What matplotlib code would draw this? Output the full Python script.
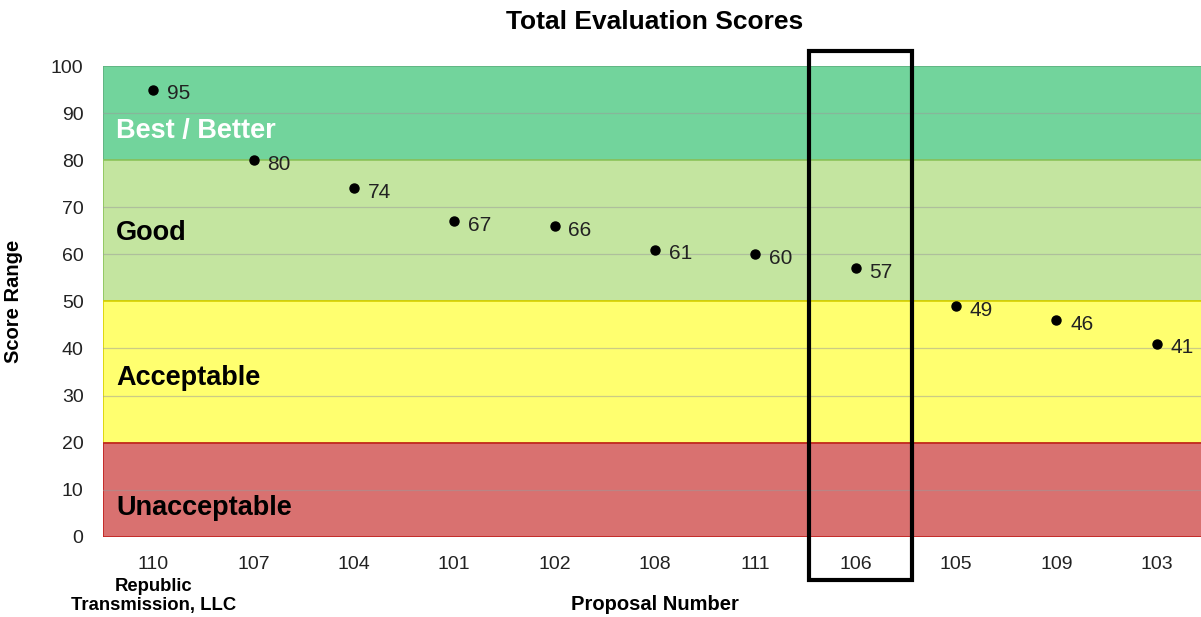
import matplotlib
matplotlib.use('Agg')
import matplotlib.pyplot as plt
from matplotlib.patches import Rectangle

plt.rcParams['font.family'] = ['Liberation Sans', 'DejaVu Sans']

# Data
proposals = ['110', '107', '104', '101', '102', '108', '111', '106', '105', '109', '103']
scores = [95, 80, 74, 67, 66, 61, 60, 57, 49, 46, 41]
highlight = '106'

# Score bands
band_low = [80, 50, 20, 0]
band_high = [100, 80, 50, 20]
band_names = ['Best / Better', 'Good', 'Acceptable', 'Unacceptable']

BAND_FACE = ['#72D49C', '#C4E5A0', '#FFFF6F', '#D97170']
BAND_EDGE = ['#5FB080', '#8CC45A', '#D8D000', '#C0201E']
BAND_TEXT = ['white', 'black', 'black', 'black']
BAND_TEXT_Y = [86.2, 64.5, 33.7, 6.2]

fig = plt.figure(figsize=(12.01, 6.17), dpi=100)
ax = fig.add_axes([0.0858, 0.130, 0.919, 0.763])

x = list(range(len(proposals)))

for lo, hi, face, edge in zip(band_low, band_high, BAND_FACE, BAND_EDGE):
    ax.add_patch(Rectangle((-0.5, lo), len(proposals), hi - lo, facecolor=face,
                           edgecolor=edge, lw=1.2, zorder=0))

for g in range(10, 100, 10):
    if g in (20, 50, 80):
        continue
    ax.axhline(g, color='#9A9A9A', lw=0.9, alpha=0.5, zorder=1)

for name, tc, ty in zip(band_names, BAND_TEXT, BAND_TEXT_Y):
    ax.text(-0.37, ty, name, color=tc, fontsize=19.5, weight='bold',
            ha='left', va='center', zorder=3)

ax.plot(x, scores, 'o', color='black', markersize=6.5, zorder=4)
for xi, s in zip(x, scores):
    ax.annotate(str(s), (xi, s), xytext=(10, -3), textcoords='offset points',
                ha='left', va='center', fontsize=15, color='#222222', zorder=4)

# highlighted proposal box
hi_idx = proposals.index(highlight)
ax.add_patch(Rectangle((hi_idx - 0.46, -9.2), 1.02, 112.4, fill=False,
                       edgecolor='black', lw=3, clip_on=False, zorder=5))

ax.set_xlim(-0.5, len(proposals) - 0.5)
ax.set_ylim(0, 100)
ax.set_xticks(x)
ax.set_xticklabels(proposals)
ax.set_yticks(range(0, 101, 10))
ax.tick_params(axis='both', length=0, labelsize=14, labelcolor='#222222')
ax.tick_params(axis='x', pad=14)
ax.tick_params(axis='y', pad=14)
for sp in ax.spines.values():
    sp.set_visible(False)

ax.text(0, -8.7, 'Republic\nTransmission, LLC', ha='center', va='top',
        fontsize=13.3, weight='bold', linespacing=1.2)

ax.set_xlabel('Proposal Number', fontsize=14.5, weight='bold', labelpad=16)
ax.set_ylabel('Score Range', fontsize=14.5, weight='bold', labelpad=20)
ax.set_title('Total Evaluation Scores', fontsize=19, weight='bold', pad=27)

fig.savefig('out.png', dpi=100)
